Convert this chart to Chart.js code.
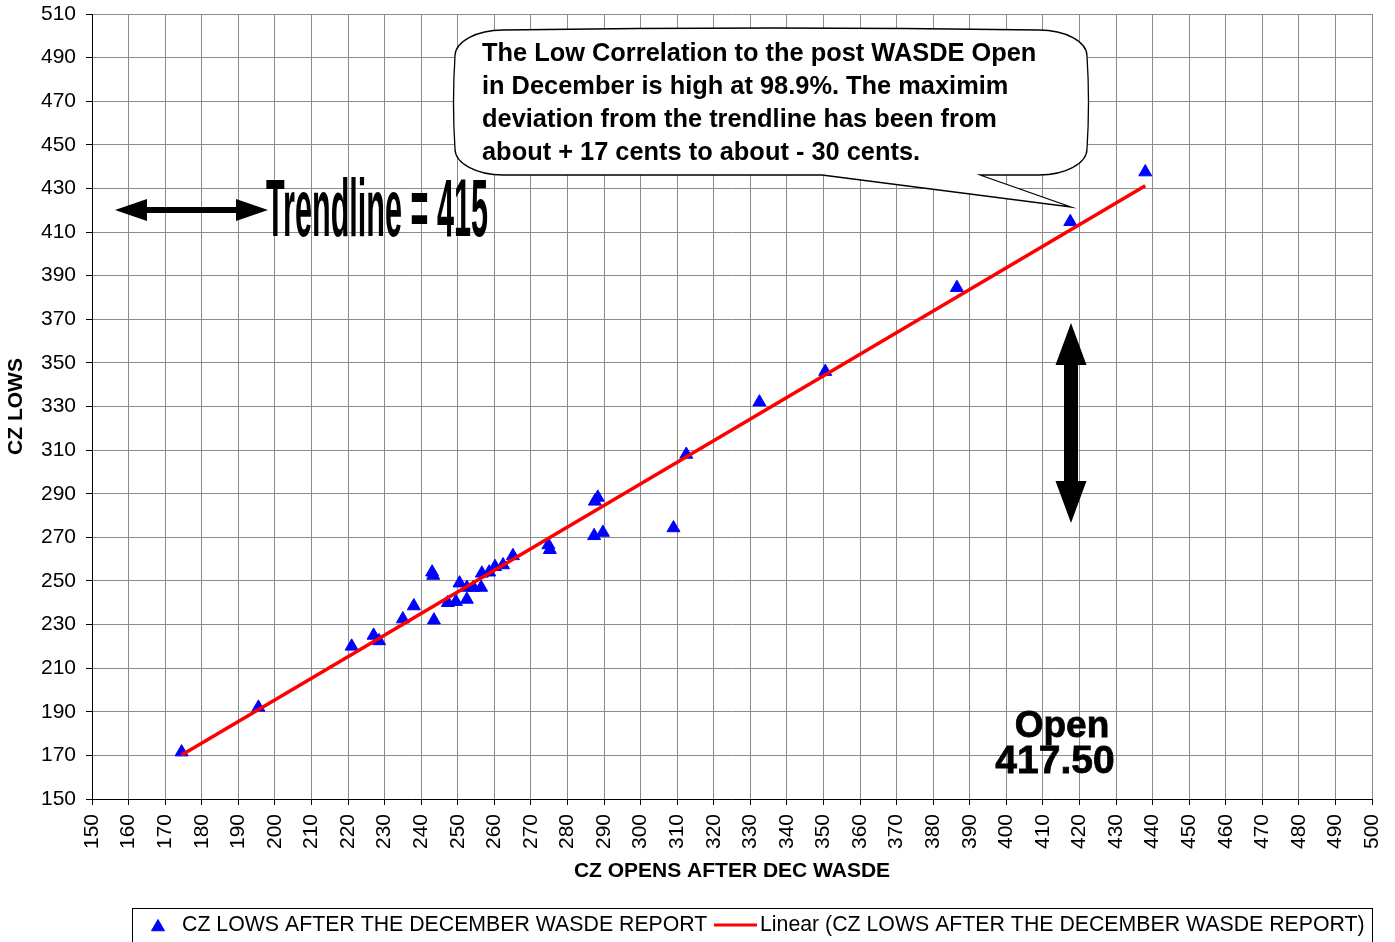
<!DOCTYPE html>
<html>
<head>
<meta charset="utf-8">
<script src="https://cdn.jsdelivr.net/npm/chart.js@4/dist/chart.umd.min.js"></script>
<style>
  html, body { margin: 0; padding: 0; background: #fff; }
  canvas { display: block; }
</style>
</head>
<body>
<canvas id="c" width="1395" height="942"></canvas>
<script>
// ---- Data ----
const opens = [174.5, 195.5, 221, 227, 228.5, 235, 238, 243, 243.3, 243.5,
  247.3, 249.5, 250.5, 252.5, 252.5, 254.3, 256.4, 256.6, 258.6, 260.2,
  262.4, 265.1, 274.8, 275.2, 287.5, 288.3, 287.3, 289.7, 309, 312.5,
  332.5, 350.5, 386.5, 417.5, 438];
const lows = [171.5, 192, 220, 225, 222.5, 232.5, 238.5, 254, 252.5, 232,
  240, 240.5, 249, 241.5, 247, 247, 247, 253.5, 254, 256.5,
  257.3, 261.5, 266.5, 264.3, 286.5, 288.3, 270.7, 272.2, 274.3, 308,
  332, 346, 384.5, 414.7, 437.5];
const seriesName = 'CZ LOWS AFTER THE DECEMBER WASDE REPORT';
const trendName = 'Linear (CZ LOWS AFTER THE DECEMBER WASDE REPORT)';
const xTitle = 'CZ OPENS AFTER DEC WASDE';
const yTitle = 'CZ LOWS';
const calloutLines = [
  'The Low Correlation to the post WASDE Open',
  'in December is high at 98.9%. The maximim',
  'deviation from the trendline has been from',
  'about + 17 cents to about - 30 cents.'
];
const trendText = 'Trendline = 415';
const openLines = ['Open', '417.50'];

// ---- Least-squares trendline (as Excel's linear trendline) ----
const n = opens.length;
let sx = 0, sy = 0, sxx = 0, sxy = 0;
for (let i = 0; i < n; i++) { sx += opens[i]; sy += lows[i]; sxx += opens[i]*opens[i]; sxy += opens[i]*lows[i]; }
const slope = (n*sxy - sx*sy) / (n*sxx - sx*sx);
const intercept = (sy - slope*sx) / n;
const xMin = Math.min(...opens), xMax = Math.max(...opens);
const trendPts = [{x: xMin, y: intercept + slope*xMin}, {x: xMax, y: intercept + slope*xMax}];

const FONT = 'Liberation Sans, Arial, Helvetica, sans-serif';
Chart.defaults.font.family = FONT;
Chart.defaults.color = '#000';

function dblArrowH(ctx, x1, x2, y, headL, headH, shaft) {
  ctx.beginPath();
  ctx.moveTo(x1, y);
  ctx.lineTo(x1 + headL, y - headH/2);
  ctx.lineTo(x1 + headL, y - shaft/2);
  ctx.lineTo(x2 - headL, y - shaft/2);
  ctx.lineTo(x2 - headL, y - headH/2);
  ctx.lineTo(x2, y);
  ctx.lineTo(x2 - headL, y + headH/2);
  ctx.lineTo(x2 - headL, y + shaft/2);
  ctx.lineTo(x1 + headL, y + shaft/2);
  ctx.lineTo(x1 + headL, y + headH/2);
  ctx.closePath();
  ctx.fill();
}
function dblArrowV(ctx, x, y1, y2, headL, headW, shaft) {
  ctx.beginPath();
  ctx.moveTo(x, y1);
  ctx.lineTo(x + headW/2, y1 + headL);
  ctx.lineTo(x + shaft/2, y1 + headL);
  ctx.lineTo(x + shaft/2, y2 - headL);
  ctx.lineTo(x + headW/2, y2 - headL);
  ctx.lineTo(x, y2);
  ctx.lineTo(x - headW/2, y2 - headL);
  ctx.lineTo(x - shaft/2, y2 - headL);
  ctx.lineTo(x - shaft/2, y1 + headL);
  ctx.lineTo(x - headW/2, y1 + headL);
  ctx.closePath();
  ctx.fill();
}

const annotations = {
  id: 'annotations',
  afterDatasetsDraw(chart) {
    const ctx = chart.ctx;
    ctx.save();
    // Callout bubble
    const L = 455, R = 1087, T = 30, B = 175, rx = 48, ry = 26;
    ctx.beginPath();
    ctx.moveTo(L + rx, T);
    ctx.quadraticCurveTo((L+R)/2, T - 4, R - rx, T);
    ctx.bezierCurveTo(R - rx*0.45, T, R, T + ry*0.45, R, T + ry);
    ctx.quadraticCurveTo(R + 3, (T+B)/2, R, B - ry);
    ctx.bezierCurveTo(R, B - ry*0.45, R - rx*0.45, B, R - rx, B);
    ctx.lineTo(980, B);
    ctx.lineTo(1071, 207);
    ctx.lineTo(822, B);
    ctx.lineTo(L + rx, B);
    ctx.bezierCurveTo(L + rx*0.45, B, L, B - ry*0.45, L, B - ry);
    ctx.quadraticCurveTo(L - 3, (T+B)/2, L, T + ry);
    ctx.bezierCurveTo(L, T + ry*0.45, L + rx*0.45, T, L + rx, T);
    ctx.closePath();
    ctx.fillStyle = '#fff';
    ctx.fill();
    ctx.lineWidth = 1.3;
    ctx.strokeStyle = '#000';
    ctx.stroke();

    ctx.fillStyle = '#000';
    ctx.font = 'bold 25.4px ' + FONT;
    ctx.textAlign = 'left';
    ctx.textBaseline = 'alphabetic';
    calloutLines.forEach((t, i) => ctx.fillText(t, 482, 61 + i*33));

    // Horizontal double arrow + Trendline text
    dblArrowH(ctx, 115, 268, 210, 32, 22, 6);
    ctx.save();
    ctx.font = 'bold 82px ' + FONT;
    const w = ctx.measureText(trendText).width;
    ctx.translate(266, 236);
    ctx.scale(222 / w, 1);
    ctx.fillText(trendText, 0, 0);
    ctx.restore();

    // Vertical double arrow
    dblArrowV(ctx, 1071, 323, 523, 42, 31, 14);

    // Open 417.50
    ctx.textAlign = 'center';
    ctx.font = 'bold 37px ' + FONT;
    ctx.lineWidth = 0.8;
    ctx.strokeStyle = '#000';
    ctx.fillText(openLines[0], 1062, 737);
    ctx.strokeText(openLines[0], 1062, 737);
    ctx.font = 'bold 39px ' + FONT;
    ctx.fillText(openLines[1], 1055, 773);
    ctx.strokeText(openLines[1], 1055, 773);
    ctx.restore();
  },
  afterDraw(chart) {
    // Legend box at the bottom
    const ctx = chart.ctx;
    const ds = chart.data.datasets;
    ctx.save();
    ctx.strokeStyle = '#000';
    ctx.lineWidth = 1;
    ctx.strokeRect(132.5, 908.5, 1240, 40);
    // marker item
    ctx.fillStyle = ds[0].backgroundColor;
    ctx.strokeStyle = ds[0].borderColor;
    Chart.helpers.drawPoint(ctx, {pointStyle: 'triangle', radius: 7.5, borderWidth: 1}, 158, 927);
    ctx.font = '21.3px ' + FONT;
    ctx.fillStyle = '#000';
    ctx.textBaseline = 'middle';
    ctx.textAlign = 'left';
    ctx.fillText(ds[0].label, 182, 925);
    // line item
    ctx.strokeStyle = ds[1].borderColor;
    ctx.lineWidth = 3;
    ctx.beginPath();
    ctx.moveTo(714, 925);
    ctx.lineTo(757, 925);
    ctx.stroke();
    ctx.fillText(ds[1].label, 760, 925);
    ctx.restore();
  }
};

new Chart(document.getElementById('c'), {
  type: 'scatter',
  data: {
    datasets: [
      {
        label: seriesName,
        data: opens.map((x, i) => ({x, y: lows[i]})),
        pointStyle: 'triangle',
        pointRadius: 7.5,
        pointHoverRadius: 7.5,
        backgroundColor: '#0000ff',
        borderColor: '#0000ff',
        borderWidth: 1,
        order: 2
      },
      {
        type: 'line',
        label: trendName,
        data: trendPts,
        borderColor: '#ff0000',
        backgroundColor: '#ff0000',
        borderWidth: 3.5,
        pointRadius: 0,
        fill: false,
        tension: 0,
        order: 1
      }
    ]
  },
  options: {
    responsive: false,
    devicePixelRatio: 1,
    animation: false,
    events: [],
    layout: { padding: { top: 14, right: 23, bottom: 58, left: 0 } },
    plugins: { legend: { display: false }, tooltip: { enabled: false } },
    scales: {
      x: {
        type: 'linear',
        min: 150, max: 500,
        afterFit(s) { s.height = 85; s.paddingLeft = 0; s.paddingRight = 0; },
        ticks: { stepSize: 10, autoSkip: false, minRotation: 90, maxRotation: 90, padding: 9,
                 font: { size: 21, lineHeight: 1 }, color: '#000' },
        grid: { color: '#8c8c8c', lineWidth: 1, tickLength: 6, tickColor: '#000' },
        border: { color: '#000', width: 1 },
        title: { display: true, text: xTitle, color: '#000', font: { size: 21, weight: 'bold' },
                 padding: { top: 0, bottom: 0 } }
      },
      y: {
        type: 'linear',
        min: 150, max: 510,
        afterFit(s) { s.width = 92; s.paddingTop = 0; s.paddingBottom = 0; },
        ticks: { stepSize: 20, autoSkip: false, padding: 10, font: { size: 21, lineHeight: 1 }, color: '#000' },
        grid: { color: '#8c8c8c', lineWidth: 1, tickLength: 6, tickColor: '#000' },
        border: { color: '#000', width: 1 },
        title: { display: true, text: yTitle, color: '#000', font: { size: 21, weight: 'bold' },
                 padding: { top: 4, bottom: 0 } }
      }
    }
  },
  plugins: [annotations]
});
</script>
</body>
</html>
